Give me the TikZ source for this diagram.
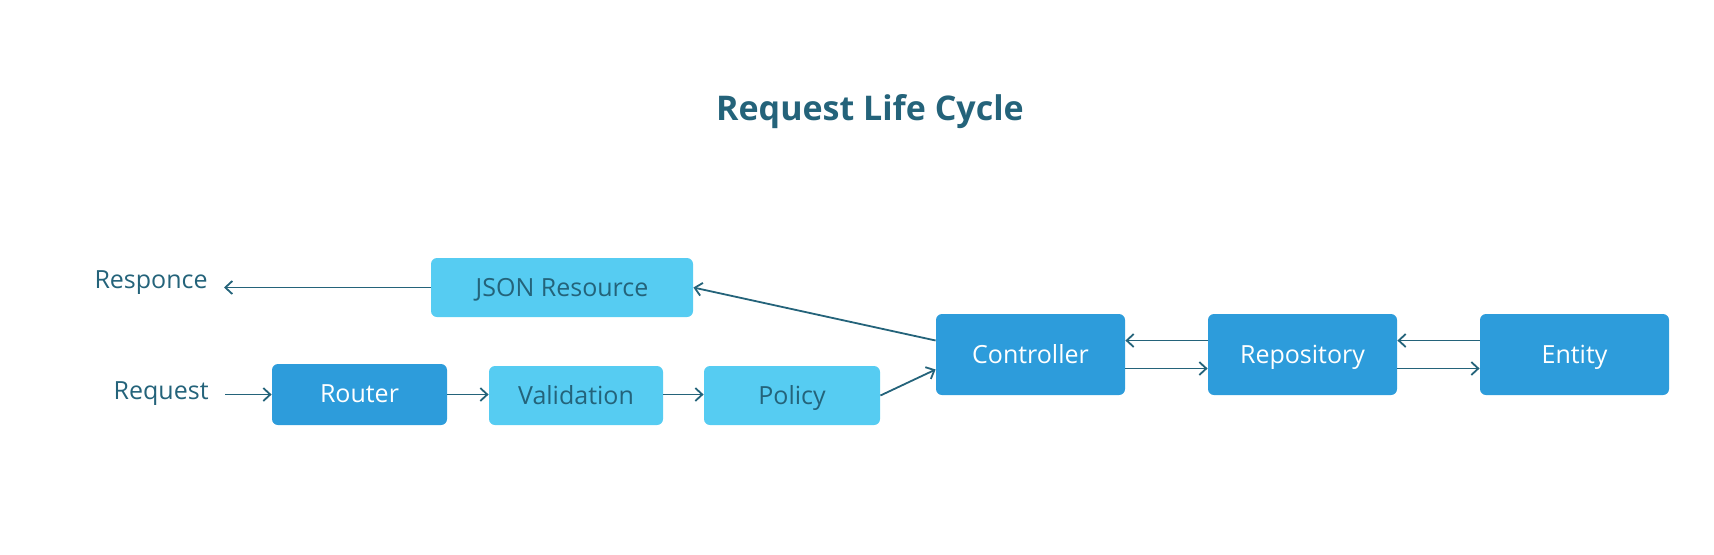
\documentclass[tikz,border=0pt]{standalone}
\usepackage{fontspec}
\setmainfont{Open Sans}
\usetikzlibrary{calc,arrows.meta}
\definecolor{deepblue}{HTML}{2D9CDB}
\definecolor{lightblue}{HTML}{56CCF2}
\definecolor{inkteal}{HTML}{24637A}
\begin{document}
\begin{tikzpicture}[x=0.5pt,y=-0.5pt,>={Straight Barb[length=3.5pt,width=6.5pt]}]
       \tikzstyle{darkbox} = [rectangle, rounded corners=3pt, fill=deepblue, text=white, font=\fontsize{12.5}{15}\selectfont, text depth=0.5pt];
       \tikzstyle{lightbox} = [rectangle, rounded corners=3pt, fill=lightblue, text=inkteal, font=\fontsize{12.5}{15}\selectfont, text depth=0.5pt];
       \tikzstyle{plain} = [text=inkteal, font=\fontsize{12.5}{15}\selectfont, inner xsep=8pt];
       \tikzstyle{flow} = [draw=inkteal, line width=0.9pt, ->];
       \useasboundingbox (0,0) rectangle (1714,554);
       \node[text=inkteal, font=\fontsize{17}{20}\selectfont\bfseries] (title) at (870,112) {Request Life Cycle};
       % top row
       \node[lightbox, minimum width=131pt, minimum height=29.5pt] (json) at (562,287.5) {JSON Resource};
       \node[plain, anchor=east] (responce) at (224,283) {Responce};
       % bottom row
       \node[plain, anchor=east] (request) at (225,394) {Request};
       \node[darkbox, minimum width=87.5pt, minimum height=30.5pt] (router) at (359.5,394.5) {Router};
       \node[lightbox, minimum width=87pt, minimum height=29.5pt] (validation) at (576,395.5) {Validation};
       \node[lightbox, minimum width=88pt, minimum height=29.5pt] (policy) at (792,395.5) {Policy};
       % right side
       \node[darkbox, minimum width=94.5pt, minimum height=40.5pt] (controller) at (1030.5,354.5) {Controller};
       \node[darkbox, minimum width=94.5pt, minimum height=40.5pt] (repository) at (1302.5,354.5) {Repository};
       \node[darkbox, minimum width=94.5pt, minimum height=40.5pt] (entity) at (1574.5,354.5) {Entity};

       \draw[flow] (request.east |- router.west) -- (router.west);
       \draw[flow] (router.east) -- (validation.west |- router.east);
       \draw[flow] (validation.east |- router.east) -- (policy.west |- router.east);
       \draw[flow] (policy.east) -- ($(controller.west)+(0,15)$);
       \draw[flow] ($(controller.west)+(0,-14)$) -- (json.east);
       \draw[flow] (json.west) -- (responce.east |- json.west);

       \draw[flow] ($(repository.west)+(0,-14)$) -- ($(controller.east)+(0,-14)$);
       \draw[flow] ($(controller.east)+(0,14)$) -- ($(repository.west)+(0,14)$);
       \draw[flow] ($(entity.west)+(0,-14)$) -- ($(repository.east)+(0,-14)$);
       \draw[flow] ($(repository.east)+(0,14)$) -- ($(entity.west)+(0,14)$);
     \end{tikzpicture}
\end{document}
